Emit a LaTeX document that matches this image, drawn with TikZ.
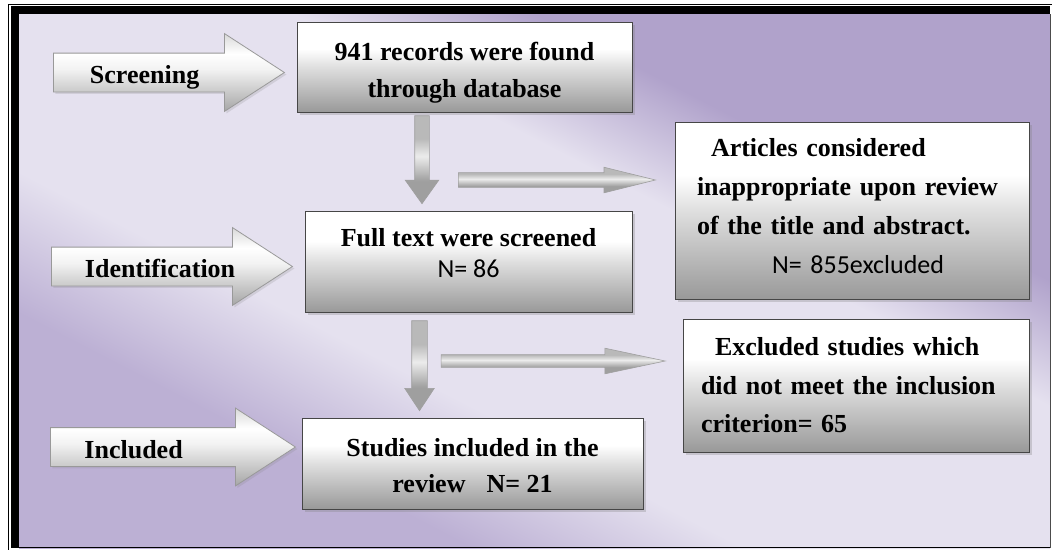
\documentclass[tikz,border=0pt]{standalone}
\usepackage{fontspec}
\setmainfont{Liberation Serif}
\newfontfamily\calibri{Carlito}
\usetikzlibrary{shapes.arrows,shadows}
\definecolor{bgPurple}{RGB}{176,162,203}
\definecolor{bgLight}{RGB}{229,225,239}
\definecolor{bgLow}{RGB}{188,176,212}
\pgfdeclarehorizontalshading{backdrop}{100bp}{color(0bp)=(bgLow); color(31bp)=(bgLow); color(40bp)=(bgLight); color(59bp)=(bgLight); color(67bp)=(bgPurple); color(100bp)=(bgPurple)}
\pgfdeclareverticalshading{panel}{100bp}{color(0bp)=(gray!80); color(25bp)=(gray!80); color(50bp)=(gray!25); color(60bp)=(white); color(100bp)=(white)}
\pgfdeclareverticalshading{stage}{100bp}{color(0bp)=(gray!70); color(25bp)=(gray!70); color(52bp)=(gray!10); color(62bp)=(white); color(75bp)=(gray!30); color(100bp)=(gray!30)}
\pgfdeclareverticalshading{pipe}{100bp}{color(0bp)=(gray!75); color(38bp)=(gray!75); color(52bp)=(gray!15); color(62bp)=(gray!55); color(100bp)=(gray!55)}
\begin{document}
\begin{tikzpicture}[x=1pt,y=-1pt]
	\tikzstyle{Box} = [rectangle, draw=gray!55!black, line width=0.8pt, shading=panel, drop shadow={shadow xshift=3pt, shadow yshift=-3pt, opacity=0.3}, inner sep=0pt]
	\tikzstyle{Stage} = [single arrow, draw=gray!80, line width=0.8pt, shading=stage, drop shadow={shadow xshift=2pt, shadow yshift=-2pt, opacity=0.2}, single arrow head extend=19.5pt, single arrow tip angle=66, inner xsep=0pt, inner ysep=7pt, text height=23pt, text depth=1pt, align=left, anchor=tail, font=\fontsize{26}{30}\selectfont\bfseries]
	\tikzstyle{Flow} = [single arrow, draw=gray!75, line width=0.6pt, shading=pipe, inner xsep=0pt]
	\useasboundingbox (0,0) rectangle (1052,550);
	% background and frame
	\fill[shading=backdrop, shading angle=62.6] (19,14) rectangle (1050,548);
	\fill[black] (11,6) rectangle (1050,14);
	\fill[black] (11,6) rectangle (19,548);
	\draw[line width=1.5pt] (11,547.5) -- (1050,547.5);
	\draw[line width=0.8pt, gray!60!black] (1050.5,14) -- (1050.5,548);
	\draw[line width=0.6pt] (8,4.5) -- (1052,4.5) (8,4.5) -- (8,550);
	% boxes
	\node (B1) at (464.5,67) [Box, minimum width=335pt, minimum height=90pt, align=center, font=\fontsize{26}{37}\selectfont\bfseries] {\rule{0pt}{29pt}941 records were found\\through database};
	\node (B2) at (468.5,261.5) [Box, minimum width=327pt, minimum height=101pt, align=center, font=\fontsize{26}{31}\selectfont\bfseries] {Full text were screened\\{\calibri\mdseries N= 86}\rule[-18pt]{0pt}{0pt}};
	\node (B3) at (472.5,463.5) [Box, minimum width=341pt, minimum height=91pt, align=center, font=\fontsize{26}{36}\selectfont\bfseries] {\rule{0pt}{23pt}Studies included in the\\review\hspace{21pt}N= 21};
	\node (E1) at (852,210.5) [Box, minimum width=354pt, minimum height=177pt, text width=310pt, align=left, font=\fontsize{26}{38.7}\selectfont\bfseries] {\hspace*{14pt}Articles considered\\inappropriate upon review\\of the title and abstract.\\\hspace*{75pt}{\calibri\mdseries N= 855excluded}\rule[-9pt]{0pt}{0pt}};
	\node (E2) at (856,385.5) [Box, minimum width=346pt, minimum height=133pt, text width=310pt, align=left, font=\fontsize{26}{38.5}\selectfont\bfseries] {\hspace*{14pt}Excluded studies which\\did not meet the inclusion\\criterion= 65};
	% stage arrows
	\node (Scr) at (53,72.5) [Stage, minimum height=231pt, text width=128pt] {Screening};
	\node (Idn) at (51,266.5) [Stage, minimum height=241pt, text width=144pt] {Identification};
	\node (Inc) at (50,447) [Stage, minimum height=245pt, text width=147pt] {Included};
	% connectors
	\node (D1) at ([xshift=-42.5pt, yshift=-3pt]B1.south) [Flow, anchor=tail, rotate=-90, minimum height=88pt, inner ysep=7pt, single arrow head extend=9.5pt, single arrow tip angle=71] {};
	\node (D2) at ([xshift=-49pt, yshift=-8pt]B2.south) [Flow, anchor=tail, rotate=-90, minimum height=90pt, inner ysep=7.5pt, single arrow head extend=7pt, single arrow tip angle=67] {};
	\node (R1) at ([xshift=-18pt, yshift=30.5pt]E1.west) [Flow, anchor=tip, minimum height=197pt, inner ysep=7pt, single arrow head extend=5.5pt, single arrow tip angle=28] {};
	\node (R2) at ([xshift=-16pt, yshift=24.5pt]E2.west) [Flow, anchor=tip, minimum height=224pt, inner ysep=6pt, single arrow head extend=6.5pt, single arrow tip angle=24] {};
\end{tikzpicture}
\end{document}
